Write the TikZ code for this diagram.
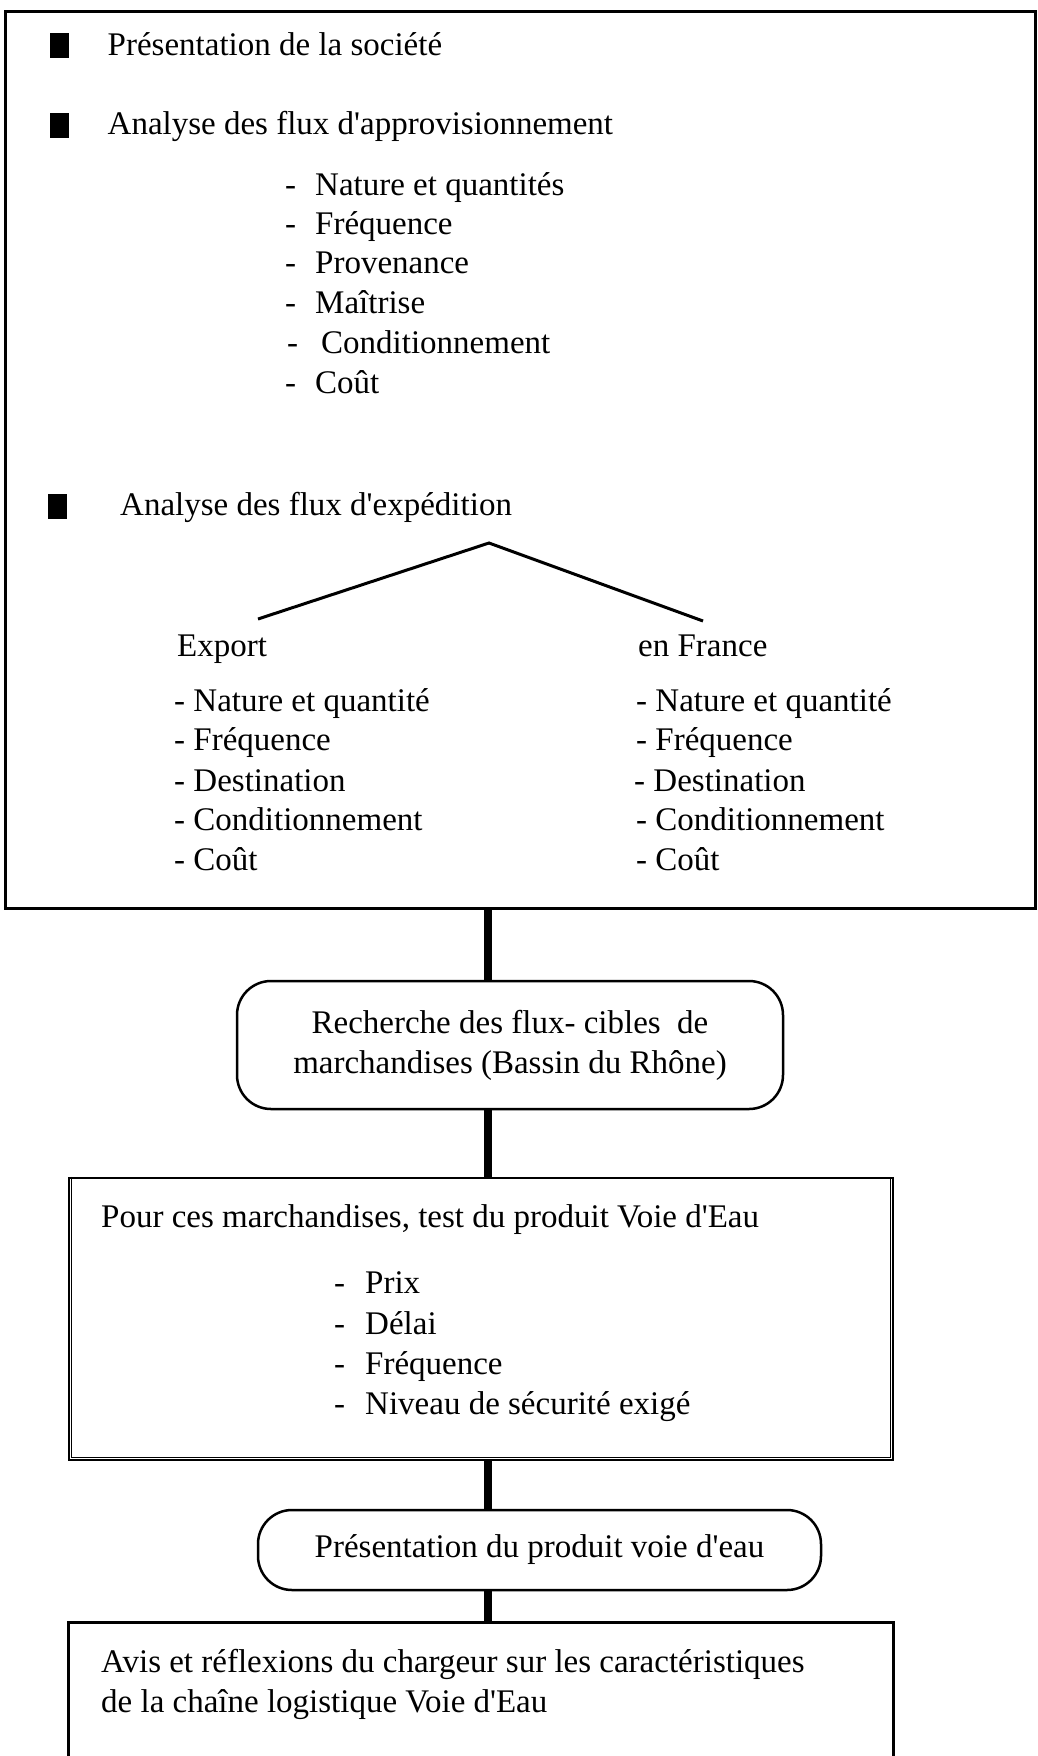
\documentclass[tikz,border=0pt]{standalone}
\usepackage{fontspec}
\setmainfont{Liberation Serif}[Ligatures=TeXOff]
\begin{document}
\begin{tikzpicture}[x=1pt,y=-1pt,
  txt/.style={anchor=base west, inner sep=0pt, font=\fontsize{33}{40}\selectfont},
  frame/.style={draw, line width=3pt, inner sep=0pt},
  rbox/.style={draw, line width=2.5pt, rounded corners=34pt, inner sep=0pt,
               align=center, font=\fontsize{33}{40}\selectfont},
  sq/.style={fill=black, inner sep=0pt, minimum width=19pt, minimum height=25pt},
  conn/.style={line width=8pt},
  tree/.style={line width=3pt}]
\useasboundingbox (0,0) rectangle (1037,1756);

% spine of the vertical connectors
\coordinate (spine) at (488,0);

% ---- first frame: company and flows ----
\node[frame, minimum width=1030pt, minimum height=897pt] (top) at (520,459.5) {};

\node[sq] (sq1) at (59,45) {};
\node[txt] (p1) at (107.5,55) {Présentation de la société};
\node[sq] (sq2) at (59,125) {};
\node[txt] (p2) at (107.5,134) {Analyse des flux d'approvisionnement};

\node[txt] (a1d) at (285,195) {-};\node[txt] (a1) at (315,195) {Nature et quantités};
\node[txt] (a2d) at (285,234) {-};\node[txt] (a2) at (315,234) {Fréquence};
\node[txt] (a3d) at (285,273) {-};\node[txt] (a3) at (315,273) {Provenance};
\node[txt] (a4d) at (285,313.5) {-};\node[txt] (a4) at (315,313.5) {Maîtrise};
\node[txt] (a5d) at (287,353) {-};\node[txt] (a5) at (321,353) {Conditionnement};
\node[txt] (a6d) at (285,393) {-};\node[txt] (a6) at (315,393) {Coût};

\node[sq] (sq3) at (57,506) {};
\node[txt] (p3) at (120,515) {Analyse des flux d'expédition};

% branching of the shipping flows
\coordinate (apex) at (489,543);
\coordinate (tl) at (258,619);
\coordinate (tr) at (703,621);
\draw[tree] (tl) -- (apex) -- (tr);

\node[txt] (ex) at (177,656) {Export};
\node[txt] (fr) at (638,656) {en France};

\node[txt] (e1) at (174,711) {- Nature et quantité};
\node[txt] (e2) at (174,750) {- Fréquence};
\node[txt] (e3) at (174,791) {- Destination};
\node[txt] (e4) at (174,830) {- Conditionnement};
\node[txt] (e5) at (174,870) {- Coût};

\node[txt] (f1) at (636,711) {- Nature et quantité};
\node[txt] (f2) at (636,750) {- Fréquence};
\node[txt] (f3) at (634,791) {- Destination};
\node[txt] (f4) at (636,830) {- Conditionnement};
\node[txt] (f5) at (636,870) {- Coût};

% ---- target flows ----
\node[rbox, minimum width=546pt, minimum height=128pt] (r1) at (510,1045)
  {Recherche des flux- cibles\ \ de\\marchandises (Bassin du Rhône)};

% ---- test of the waterway product ----
\node[draw, line width=2.5pt, inner sep=0pt, minimum width=824pt, minimum height=282pt] (b2) at (481,1319) {};
\draw[line width=1pt] ([shift={(4,0)}]b2.north west) |- ([shift={(-4,-4)}]b2.south east) -- ([shift={(-4,0)}]b2.north east);
\node[txt] (b2t) at (101,1227) {Pour ces marchandises, test du produit Voie d'Eau};
\node[txt] (c1d) at (334,1293.5) {-};\node[txt] (c1) at (365,1293.5) {Prix};
\node[txt] (c2d) at (334,1334) {-};\node[txt] (c2) at (365,1334) {Délai};
\node[txt] (c3d) at (334,1374) {-};\node[txt] (c3) at (365,1374) {Fréquence};
\node[txt] (c4d) at (334,1414.5) {-};\node[txt] (c4) at (365,1414.5) {Niveau de sécurité exigé};

% ---- presentation of the product ----
\node[rbox, minimum width=563pt, minimum height=80pt] (r2) at (539.5,1550)
  {Présentation du produit voie d'eau};

% ---- shipper's opinion (frame runs off the page) ----
\node[inner sep=0pt, minimum width=824pt, minimum height=140pt] (b3) at (481,1693) {};
\draw[line width=3pt] (b3.south west) |- (b3.north east) -- (b3.south east);
\node[txt] (b3a) at (101,1672) {Avis et réflexions du chargeur sur les caractéristiques};
\node[txt] (b3b) at (101,1712) {de la chaîne logistique Voie d'Eau};

% ---- connectors ----
\draw[conn] (top.south -| spine) -- (r1.north -| spine);
\draw[conn] (r1.south -| spine) -- (b2.north -| spine);
\draw[conn] (b2.south -| spine) -- (r2.north -| spine);
\draw[conn] (r2.south -| spine) -- (b3.north -| spine);
\end{tikzpicture}
\end{document}
